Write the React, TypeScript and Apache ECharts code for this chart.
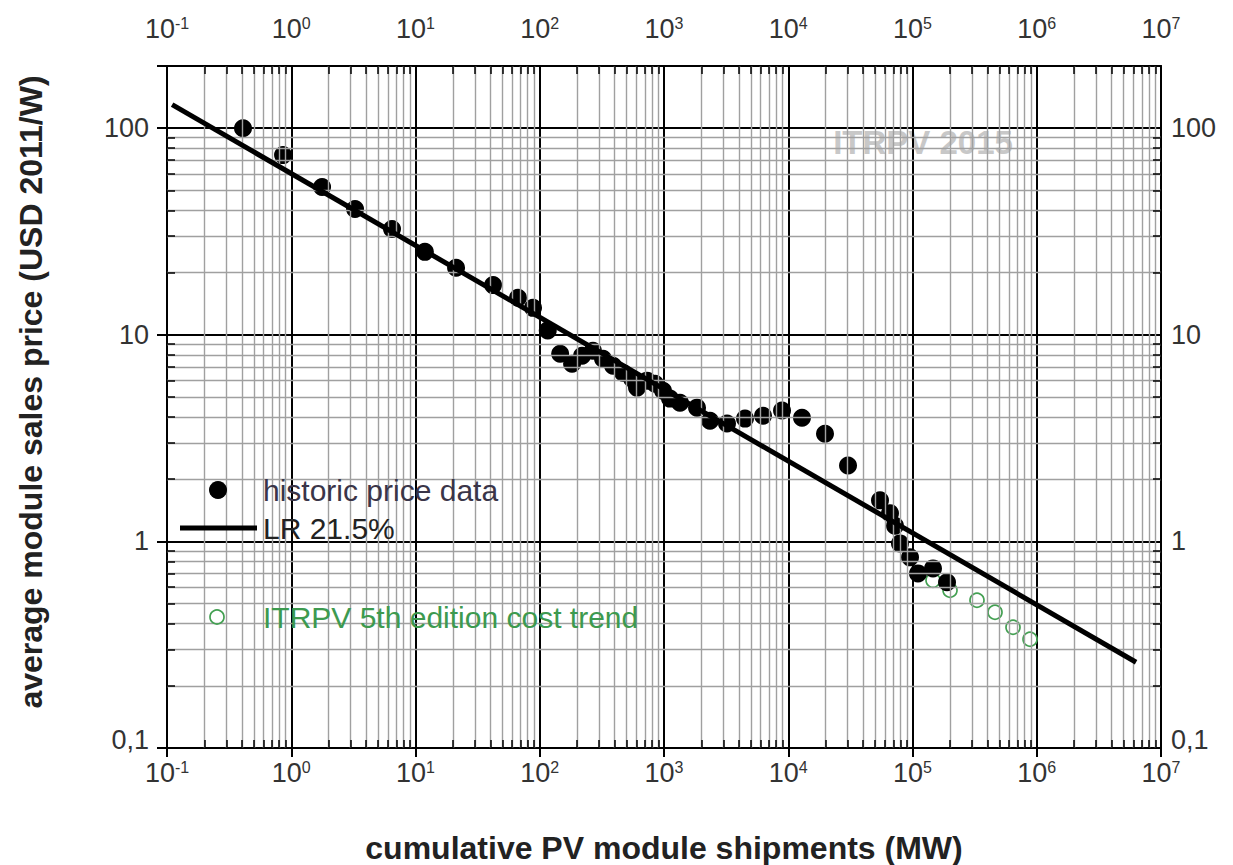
import React, { useEffect, useRef } from "react";
import * as echarts from "echarts";

// historic price data (cumulative MW, USD2011/W)
const historicX = [0.409, 0.859, 1.77, 3.26, 6.47, 11.9, 21.2, 42.1, 66.8, 88.3, 116, 146, 182, 219, 268, 323, 389, 468, 553, 606, 730, 847, 982, 1118, 1345, 1844, 2345, 3214, 4487, 6266, 8909, 12900, 19760, 30270, 54760, 65900, 72300, 79300, 95500, 110700, 146200, 189600];
const historicY = [100, 74.1, 51.9, 40.6, 32.5, 25.2, 21.1, 17.4, 15.1, 13.5, 10.5, 8.09, 7.24, 7.92, 8.37, 7.66, 7.08, 6.55, 6.13, 5.55, 6.0, 5.8, 5.36, 4.91, 4.69, 4.44, 3.84, 3.72, 3.93, 4.06, 4.3, 3.97, 3.32, 2.33, 1.58, 1.37, 1.19, 0.978, 0.837, 0.7, 0.74, 0.634];

// ITRPV 5th edition cost trend
const trendX = [146200, 200400, 330400, 461400, 644000, 882800];
const trendY = [0.648, 0.58, 0.519, 0.454, 0.384, 0.336];

// learning rate line LR 21.5%
const lrX = [0.11, 6.3e6];
const lrY = [130, 0.26];

// axis ranges / ticks
const xMin = 0.1;
const xMax = 1e7;
const yMin = 0.1;
const yMax = 200;
const xMinorDecades = [-1, 0, 1, 2, 3, 4, 5, 6];
const yMinorDecades = [-1, 0, 1];
const minorFactors = [2, 3, 4, 5, 6, 7, 8, 9];
const yTickLabels: Record<string, string> = { "-1": "0,1", "0": "1", "1": "10", "2": "100" };

const FONT = '"Liberation Sans", Arial, sans-serif';

function minorValues(decades: number[]) {
  const out: number[] = [];
  decades.forEach((d) => minorFactors.forEach((f) => out.push(f * Math.pow(10, d))));
  return out;
}

function isDecade(v: number) {
  const l = Math.log10(v);
  return Math.abs(l - Math.round(l)) < 1e-6;
}

const xLabelFormatter = (v: number) => {
  if (!isDecade(v)) return "";
  const e = Math.round(Math.log10(v));
  return `{b|10}{s|${e}}`;
};
const yLabelFormatter = (v: number) => {
  if (!isDecade(v)) return "";
  const e = Math.round(Math.log10(v));
  const t = yTickLabels[String(e)] ?? "";
  return e === -1 ? `{lo|${t}}` : `{n|${t}}`;
};

const xRich = {
  b: { fontSize: 27, color: "#333", fontFamily: FONT },
  s: { fontSize: 16, color: "#333", fontFamily: FONT, verticalAlign: "top" as const },
};
const yRich = {
  n: { fontSize: 27, color: "#333", fontFamily: FONT },
  lo: { fontSize: 27, color: "#333", fontFamily: FONT, padding: [0, 0, 16, 0] },
};

export default function App() {
  const ref = useRef<HTMLDivElement>(null);
  useEffect(() => {
    if (!ref.current) return;
    const chart = echarts.init(ref.current, undefined, { renderer: "svg" });

    const xMinor = minorValues(xMinorDecades);
    const yMinor = minorValues(yMinorDecades);
    const tickLenX = Math.pow(10, 8 / 124.25);
    const tickLenY = Math.pow(10, 8 / 207);

    const minorTickSegs: any[] = [];
    xMinor.forEach((v) => {
      minorTickSegs.push([{ coord: [v, yMin] }, { coord: [v, yMin * tickLenY] }]);
      minorTickSegs.push([{ coord: [v, yMax] }, { coord: [v, yMax / tickLenY] }]);
    });
    yMinor.forEach((v) => {
      minorTickSegs.push([{ coord: [xMin, v] }, { coord: [xMin * tickLenX, v] }]);
      minorTickSegs.push([{ coord: [xMax, v] }, { coord: [xMax / tickLenX, v] }]);
    });

    const axisLineStyle = { show: true, onZero: false, lineStyle: { color: "#000", width: 2 } };

    const option: any = {
      animation: false,
      backgroundColor: "#fff",
      textStyle: { fontFamily: FONT },
      grid: { left: 167, right: 72, top: 66, bottom: 117, containLabel: false },
      xAxis: [
        {
          type: "log", logBase: 10, min: xMin, max: xMax, position: "bottom",
          axisLine: axisLineStyle,
          axisTick: { show: true, inside: false, length: 9, lineStyle: { color: "#000", width: 2 } },
          axisLabel: { formatter: xLabelFormatter, rich: xRich, margin: 11, color: "#333" },
          splitLine: { show: true, lineStyle: { color: "#000", width: 2 } },
        },
        {
          type: "log", logBase: 10, min: xMin, max: xMax, position: "top",
          axisLine: axisLineStyle,
          axisTick: { show: false },
          axisLabel: { formatter: xLabelFormatter, rich: xRich, margin: 24, color: "#333" },
          splitLine: { show: false },
        },
      ],
      yAxis: [
        {
          type: "log", logBase: 10, min: yMin, max: yMax, position: "left",
          axisLine: axisLineStyle,
          axisTick: { show: true, inside: false, length: 10, lineStyle: { color: "#000", width: 2 } },
          axisLabel: { formatter: yLabelFormatter, rich: yRich, color: "#333", margin: 18 },
          splitLine: { show: true, lineStyle: { color: "#000", width: 2 } },
        },
        {
          type: "log", logBase: 10, min: yMin, max: yMax, position: "right",
          axisLine: axisLineStyle,
          axisTick: { show: false },
          axisLabel: { formatter: yLabelFormatter, rich: yRich, color: "#333", margin: 10 },
          splitLine: { show: false },
        },
      ],
      series: [
        {
          type: "line", data: [], silent: true, z: 1,
          markLine: {
            silent: true, symbol: ["none", "none"], label: { show: false },
            lineStyle: { color: "#a0a0a0", width: 1.4, type: "solid" },
            emphasis: { disabled: true },
            data: [...xMinor.map((v) => ({ xAxis: v })), ...yMinor.map((v) => ({ yAxis: v }))],
          },
        },
        {
          type: "line", data: [], silent: true, z: 1,
          markLine: {
            silent: true, symbol: ["none", "none"], label: { show: false },
            lineStyle: { color: "#000", width: 1.5, type: "solid" },
            emphasis: { disabled: true },
            data: minorTickSegs,
          },
        },
        {
          name: "ITRPV 5th edition cost trend", type: "scatter", z: 3,
          data: trendX.map((x, i) => [x, trendY[i]]),
          symbol: "circle", symbolSize: 14,
          itemStyle: { color: "rgba(255,255,255,0)", borderColor: "#43a052", borderWidth: 1.7, opacity: 1 },
        },
        {
          name: "historic price data", type: "scatter", z: 4,
          data: historicX.map((x, i) => [x, historicY[i]]),
          symbol: "circle", symbolSize: 18,
          itemStyle: { color: "#000", opacity: 1 },
        },
        {
          name: "LR 21.5%", type: "line", z: 5,
          data: lrX.map((x, i) => [x, lrY[i]]),
          symbol: "none",
          lineStyle: { color: "#000", width: 5 },
        },
      ],
      graphic: [
        {
          type: "text", x: 923, y: 142, z: -10, silent: true,
          style: { text: "ITRPV 2015", font: `bold 33px ${FONT}`, fill: "#c8c8c8", textAlign: "center", textVerticalAlign: "middle" },
        },
        {
          type: "text", x: 664, y: 848,
          style: { text: "cumulative PV module shipments (MW)", font: `bold 32px ${FONT}`, fill: "#222", textAlign: "center", textVerticalAlign: "middle" },
        },
        {
          type: "text", x: 31, y: 392, rotation: Math.PI / 2,
          style: { text: "average module sales price (USD 2011/W)", font: `bold 32px ${FONT}`, fill: "#222", textAlign: "center", textVerticalAlign: "middle" },
        },
        { type: "circle", shape: { cx: 218, cy: 490, r: 9 }, style: { fill: "#000" }, z: 10 },
        { type: "line", shape: { x1: 180, y1: 528, x2: 257, y2: 528 }, style: { stroke: "#000", lineWidth: 5 }, z: 10 },
        { type: "circle", shape: { cx: 217, cy: 617, r: 7 }, style: { fill: "rgba(255,255,255,0)", stroke: "#43a052", lineWidth: 1.7 }, z: 10 },
        {
          type: "text", x: 263, y: 490, z: 10,
          style: { text: "historic price data", font: `30px ${FONT}`, fill: "#3a3548", textAlign: "left", textVerticalAlign: "middle" },
        },
        {
          type: "text", x: 263, y: 528, z: 10,
          style: { text: "LR 21.5%", font: `30px ${FONT}`, fill: "#222", textAlign: "left", textVerticalAlign: "middle" },
        },
        {
          type: "text", x: 263, y: 617, z: 10,
          style: { text: "ITRPV 5th edition cost trend", font: `30px ${FONT}`, fill: "#3d9a4f", textAlign: "left", textVerticalAlign: "middle" },
        },
      ],
    };

    chart.setOption(option);
    return () => chart.dispose();
  }, []);

  return <div ref={ref} style={{ position: "fixed", left: 0, top: 0, width: 1233, height: 865, background: "#fff" }} />;
}
